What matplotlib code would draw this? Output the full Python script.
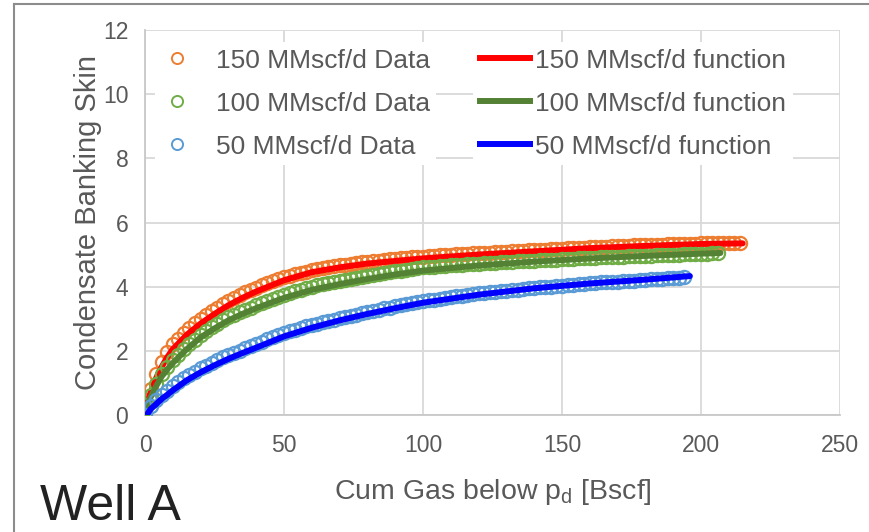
import numpy as np
import matplotlib
matplotlib.use('Agg')
import matplotlib.pyplot as plt
from matplotlib.lines import Line2D

plt.rcParams['font.family'] = ['Liberation Sans', 'DejaVu Sans']
plt.rcParams['mathtext.fontset'] = 'custom'
plt.rcParams['mathtext.rm'] = 'Liberation Sans'

# cumulative gas below dew point, Bscf (data sampled every 2 Bscf)
cum_gas = [0, 2, 4, 6, 8, 10, 12, 14, 16, 18, 20, 22, 24, 26, 28, 30, 32, 34, 36, 38,
           40, 42, 44, 46, 48, 50, 52, 54, 56, 58, 60, 62, 64, 66, 68, 70, 72, 74, 76, 78,
           80, 82, 84, 86, 88, 90, 92, 94, 96, 98, 100, 102, 104, 106, 108, 110, 112, 114, 116, 118,
           120, 122, 124, 126, 128, 130, 132, 134, 136, 138, 140, 142, 144, 146, 148, 150, 152, 154, 156, 158,
           160, 162, 164, 166, 168, 170, 172, 174, 176, 178, 180, 182, 184, 186, 188, 190, 192, 194, 196, 198,
           200, 202, 204, 206, 208, 210, 212, 214]

skin_150_data = [0.30, 0.80, 1.28, 1.65, 1.95, 2.20, 2.38, 2.56, 2.72, 2.86, 3.00, 3.12, 3.24, 3.35, 3.46, 3.56, 3.65, 3.74, 3.82, 3.90,
                 3.97, 4.04, 4.11, 4.17, 4.23, 4.29, 4.34, 4.39, 4.43, 4.47, 4.51, 4.55, 4.58, 4.61, 4.64, 4.67, 4.69, 4.71, 4.73, 4.76,
                 4.78, 4.80, 4.81, 4.83, 4.85, 4.87, 4.88, 4.90, 4.91, 4.93, 4.94, 4.95, 4.97, 4.98, 4.99, 5.00, 5.01, 5.02, 5.03, 5.04,
                 5.05, 5.05, 5.06, 5.07, 5.08, 5.09, 5.10, 5.11, 5.12, 5.13, 5.14, 5.14, 5.15, 5.16, 5.17, 5.18, 5.19, 5.20, 5.21, 5.22,
                 5.23, 5.24, 5.24, 5.25, 5.26, 5.27, 5.27, 5.28, 5.29, 5.29, 5.30, 5.30, 5.31, 5.31, 5.32, 5.32, 5.33, 5.33, 5.34, 5.34,
                 5.35, 5.35, 5.35, 5.36, 5.36, 5.36, 5.37, 5.37]

skin_100_data = [0.20, 0.62, 0.98, 1.28, 1.50, 1.70, 1.88, 2.05, 2.20, 2.35, 2.50, 2.62, 2.74, 2.85, 2.95, 3.04, 3.12, 3.20, 3.28, 3.35,
                 3.42, 3.49, 3.56, 3.63, 3.69, 3.75, 3.80, 3.85, 3.90, 3.95, 4.00, 4.04, 4.08, 4.12, 4.15, 4.18, 4.21, 4.24, 4.27, 4.31,
                 4.34, 4.37, 4.39, 4.42, 4.45, 4.48, 4.50, 4.53, 4.55, 4.58, 4.60, 4.61, 4.62, 4.64, 4.65, 4.66, 4.68, 4.69, 4.70, 4.71,
                 4.72, 4.73, 4.74, 4.75, 4.76, 4.77, 4.78, 4.79, 4.80, 4.80, 4.81, 4.82, 4.83, 4.84, 4.84, 4.85, 4.86, 4.87, 4.88, 4.89,
                 4.90, 4.90, 4.91, 4.92, 4.92, 4.93, 4.94, 4.95, 4.95, 4.96, 4.97, 4.97, 4.98, 4.98, 4.99, 5.00, 5.00, 5.01, 5.02, 5.02,
                 5.03, 5.03, 5.04, 5.05]

skin_50_data = [0.00, 0.28, 0.47, 0.63, 0.76, 0.90, 1.02, 1.14, 1.25, 1.35, 1.45, 1.54, 1.63, 1.72, 1.80, 1.87, 1.94, 2.01, 2.08, 2.15,
                2.22, 2.29, 2.36, 2.43, 2.50, 2.56, 2.61, 2.66, 2.71, 2.76, 2.82, 2.85, 2.89, 2.93, 2.97, 3.01, 3.05, 3.09, 3.13, 3.17,
                3.21, 3.25, 3.28, 3.32, 3.35, 3.39, 3.42, 3.46, 3.49, 3.52, 3.55, 3.57, 3.60, 3.62, 3.65, 3.67, 3.70, 3.72, 3.74, 3.77,
                3.79, 3.80, 3.82, 3.84, 3.86, 3.88, 3.90, 3.91, 3.93, 3.95, 3.97, 3.98, 3.99, 4.00, 4.02, 4.03, 4.04, 4.05, 4.07, 4.08,
                4.11, 4.12, 4.13, 4.14, 4.15, 4.16, 4.17, 4.18, 4.19, 4.20, 4.22, 4.23, 4.24, 4.25, 4.26, 4.27, 4.28, 4.30]

# fitted functions
fn_150_x = [0.5, 2, 4, 6, 8, 10, 15, 20, 25, 30, 35, 40, 50, 60, 70, 80, 90, 100, 120, 140, 160, 180, 200, 215]
fn_150_y = [0.30, 0.70, 1.15, 1.50, 1.80, 2.05, 2.50, 2.85, 3.15, 3.42, 3.65, 3.85, 4.20, 4.45, 4.60, 4.72, 4.80, 4.88, 5.00, 5.10, 5.20, 5.27, 5.33, 5.35]
fn_100_x = [0.5, 2, 4, 6, 8, 10, 15, 20, 25, 30, 35, 40, 50, 60, 70, 80, 90, 100, 120, 140, 160, 180, 200, 207]
fn_100_y = [0.25, 0.55, 0.90, 1.20, 1.42, 1.62, 2.05, 2.42, 2.70, 2.95, 3.15, 3.33, 3.65, 3.90, 4.08, 4.24, 4.38, 4.50, 4.66, 4.78, 4.88, 4.96, 5.03, 5.05]
fn_50_x = [1, 2, 4, 6, 8, 10, 15, 20, 25, 30, 35, 40, 50, 60, 70, 80, 90, 100, 120, 140, 160, 180, 196]
fn_50_y = [0.05, 0.18, 0.34, 0.50, 0.63, 0.77, 1.08, 1.33, 1.55, 1.75, 1.93, 2.10, 2.45, 2.72, 2.95, 3.15, 3.33, 3.50, 3.75, 3.95, 4.10, 4.22, 4.33]

grey = '#595959'
fig = plt.figure(figsize=(8.69, 5.32), dpi=100)
ax = fig.add_axes([145/869, 1-415/532, 695/869, 385/532])

mk = dict(marker='o', ls='none', mfc='none', ms=9.5, mew=1.6)
ax.plot(cum_gas[:len(skin_150_data)], skin_150_data, mec='#ED7D31', zorder=3, **mk)
ax.plot(fn_150_x, fn_150_y, color='#FF0000', lw=4.3, solid_capstyle='round', zorder=4)
ax.plot(cum_gas[:len(skin_100_data)], skin_100_data, mec='#70AD47', zorder=5, **mk)
ax.plot(fn_100_x, fn_100_y, color='#548235', lw=4.3, solid_capstyle='round', zorder=6)
ax.plot(cum_gas[:len(skin_50_data)], skin_50_data, mec='#5B9BD5', zorder=7, **mk)
ax.plot(fn_50_x, fn_50_y, color='#0000FF', lw=4.3, solid_capstyle='round', zorder=8)

ax.set_xlim(0, 250)
ax.set_ylim(0, 12)
ax.set_xticks(range(0, 251, 50))
ax.set_yticks(range(0, 13, 2))
ax.grid(True, color='#d9d9d9', lw=1.3)
ax.set_axisbelow(True)
for s in ['top', 'right']:
    ax.spines[s].set_visible(False)
for s in ['left', 'bottom']:
    ax.spines[s].set_color('#c8c8c8')
    ax.spines[s].set_linewidth(1.3)
ax.tick_params(length=0, labelsize=16.5, colors=grey)
ax.tick_params(axis='y', pad=12)
ax.tick_params(axis='x', pad=14)

ax.set_xlabel(r'Cum Gas below p$_\mathregular{d}$ [Bscf]', fontsize=20.5, color=grey)
ax.set_ylabel('Condensate Banking Skin', fontsize=21, color=grey)
ax.xaxis.set_label_coords(0.5, -0.16)
ax.yaxis.set_label_coords(-0.062, 0.5)

lg_kw = dict(loc='upper left', bbox_transform=fig.transFigure, fontsize=19, frameon=True,
             fancybox=False, edgecolor='none', facecolor='white', framealpha=1,
             borderpad=0.25, borderaxespad=0, labelspacing=0.72, labelcolor=grey)

h_data = [Line2D([], [], marker='o', ls='none', mfc='none', mec=c, ms=8, mew=1.4)
          for c in ['#ED7D31', '#70AD47', '#5B9BD5']]
leg1 = ax.legend(h_data, ['150 MMscf/d Data', '100 MMscf/d Data', '50 MMscf/d Data'],
                 bbox_to_anchor=(155/869, 1-42/532), handlelength=1.2, handletextpad=0.85, **lg_kw)
leg1.set_zorder(20)
ax.add_artist(leg1)

h_fn = [Line2D([], [], color=c, lw=4.3) for c in ['#FF0000', '#548235', '#0000FF']]
leg2 = ax.legend(h_fn, ['150 MMscf/d function', '100 MMscf/d function', '50 MMscf/d function'],
                 bbox_to_anchor=(473/869, 1-42/532), handlelength=1.9, handletextpad=0.2, **lg_kw)
leg2.set_zorder(20)

fig.text(40/869, 2/532, 'Well A', fontsize=36, color='#222222', va='bottom')

# chart-area border
fig.add_artist(Line2D([14/869, 14/869], [0, 1-4/532], transform=fig.transFigure, color='#8c8c8c', lw=1.5))
fig.add_artist(Line2D([14/869, 1], [1-4/532, 1-4/532], transform=fig.transFigure, color='#8c8c8c', lw=1.5))

fig.savefig('out.png', dpi=100)
